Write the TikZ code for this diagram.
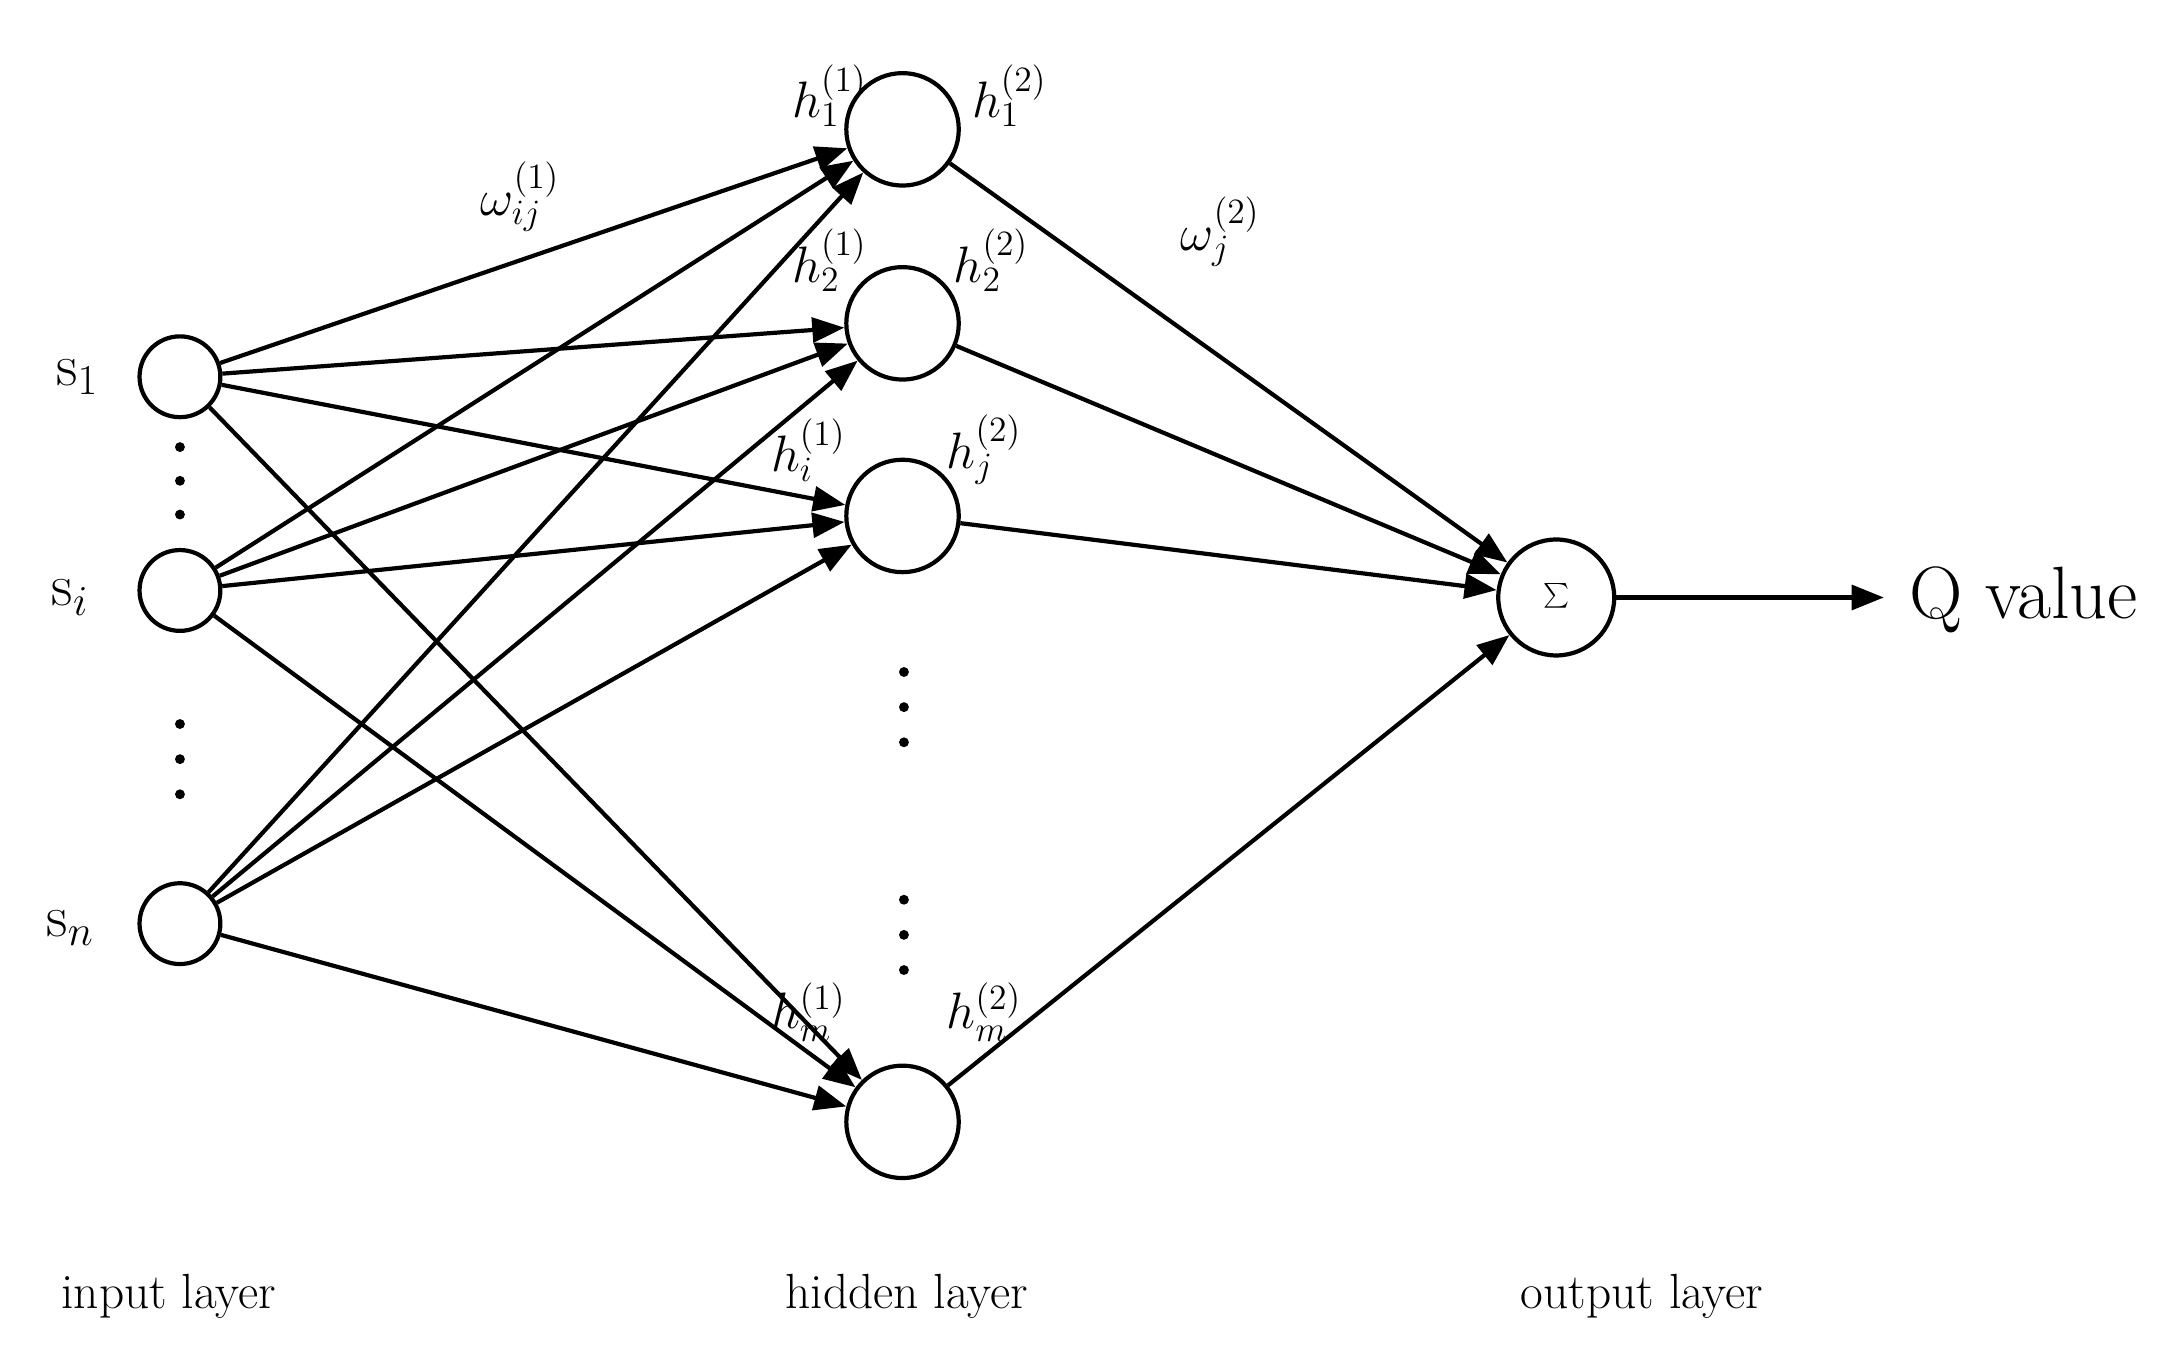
\documentclass[tikz,border=0pt]{standalone}
\usetikzlibrary{arrows.meta}
\begin{document}
\begin{tikzpicture}[x=0.02cm,y=-0.02cm,
  neu/.style={circle,draw,line width=1.7pt,minimum size=1.15cm,inner sep=0pt},
  hid/.style={circle,draw,line width=1.7pt,minimum size=1.6cm,inner sep=0pt},
  con/.style={line width=1.7pt,-{Triangle[length=13pt,width=10pt]}},
  lab/.style={font=\fontsize{24}{28}\selectfont},
  hl/.style={font=\fontsize{22}{26}\selectfont},
  bl/.style={font=\fontsize{20}{24}\selectfont},
  dot/.style={circle,fill,inner sep=0pt,minimum size=4pt}]
\useasboundingbox (0,0) rectangle (1550,968);
\node[neu] (s1) at (128,268) {};
\node[neu] (si) at (128,420) {};
\node[neu] (sn) at (128,657) {};
\node[hid] (h1) at (642,92) {};
\node[hid] (h2) at (642,230) {};
\node[hid] (hj) at (642,367) {};
\node[hid] (hm) at (642,798) {};
\node[hid,minimum size=1.65cm,font=\fontsize{26}{30}\selectfont] (sum) at (1107,425) {$\sum$};
\coordinate (q) at (1340,425);
\node[font=\fontsize{30}{34}\selectfont,anchor=west] (qv) at (1352,427) {Q value};
\node[lab] (l1) at (55,268) {s$_1$};
\node[lab] (l2) at (50,425) {s$_i$};
\node[lab] (l3) at (50,660) {s$_n$};
\foreach \y [count=\k] in {318,342,366,515,540,565} \node[dot] (di\k) at (128,\y) {};
\foreach \y [count=\k] in {478,503,528,640,665,690} \node[dot] (dh\k) at (643,\y) {};
\node[hl] (a1) at (590,68) {$h_1^{(1)}$};
\node[hl] (a2) at (718,68) {$h_1^{(2)}$};
\node[hl] (a3) at (590,185) {$h_2^{(1)}$};
\node[hl] (a4) at (705,185) {$h_2^{(2)}$};
\node[hl] (a5) at (575,320) {$h_i^{(1)}$};
\node[hl] (a6) at (700,320) {$h_j^{(2)}$};
\node[hl] (a7) at (575,720) {$h_m^{(1)}$};
\node[hl] (a8) at (700,720) {$h_m^{(2)}$};
\node[hl] (w1) at (370,140) {$\omega_{ij}^{(1)}$};
\node[hl] (w2) at (868,165) {$\omega_{j}^{(2)}$};
\node[bl] (b1) at (120,922) {input layer};
\node[bl] (b2) at (645,922) {hidden layer};
\node[bl] (b3) at (1168,922) {output layer};
\foreach \s in {s1,si,sn}\foreach \h in {h1,h2,hj,hm} \draw[con] (\s) -- (\h);
\foreach \h in {h1,h2,hj,hm} \draw[con] (\h) -- (sum);
\draw[con] (sum) -- (q);
\end{tikzpicture}
\end{document}
